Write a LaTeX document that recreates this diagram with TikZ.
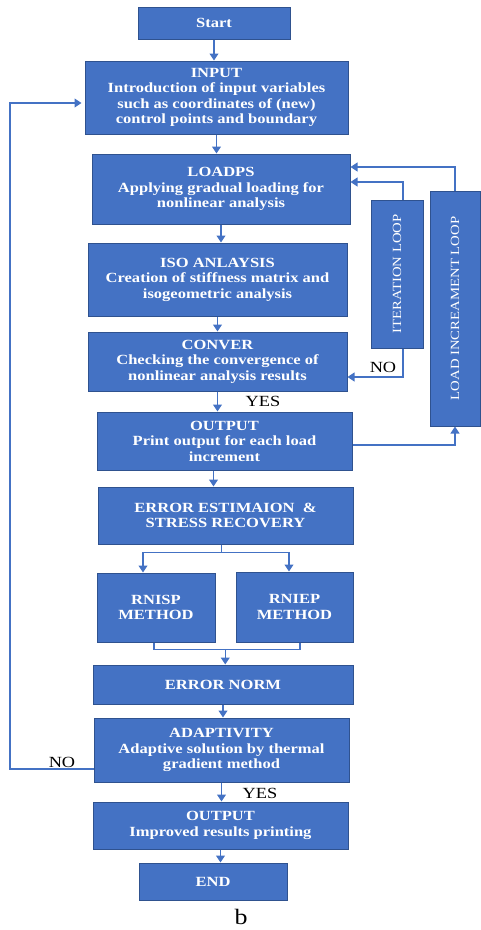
\documentclass[tikz,border=0pt]{standalone}
\usepackage{fontspec}
\setmainfont{Liberation Serif}[FakeStretch=1.18]
\usetikzlibrary{calc,arrows.meta}

\definecolor{boxblue}{RGB}{68,114,196}
\definecolor{boxedge}{RGB}{47,82,143}

\tikzset{
  procbox/.style={draw=boxedge, line width=1pt, fill=boxblue, text=white,
    font=\bfseries\fontsize{14}{15.5}\selectfont, align=center, inner sep=1pt},
  loopbox/.style={draw=boxedge, line width=1pt, fill=boxblue, text=white,
    font=\fontsize{12.5}{14}\selectfont, inner sep=1pt},
  flow/.style={draw=boxblue, line width=1.2pt},
  arr/.style={flow, -{Triangle[length=7pt,width=9pt]}},
  tag/.style={font=\fontsize{15.5}{17}\selectfont, text=black}
}

\begin{document}
\begin{tikzpicture}[x=1pt,y=-1pt]
            \useasboundingbox (0,0) rectangle (481,930);
            % main column
            \node[procbox, minimum width=152, minimum height=32] (start) at (214,23) {Start};
            \node[procbox, minimum width=263, minimum height=73] (input) at (216.5,97.5)
                {INPUT\\Introduction of input variables\\such as coordinates of (new)\\control points and boundary};
            \node[procbox, minimum width=258, minimum height=70] (loadps) at (221,189)
                {LOADPS\\Applying gradual loading for\\nonlinear analysis};
            \node[procbox, minimum width=259, minimum height=73] (iso) at (217.5,279.5)
                {ISO ANLAYSIS\\Creation of stiffness matrix and\\isogeometric analysis};
            \node[procbox, minimum width=259, minimum height=59] (conver) at (217.5,361.5)
                {CONVER\\Checking the convergence of\\nonlinear analysis results};
            \node[procbox, minimum width=255, minimum height=58] (outa) at (224.5,441)
                {OUTPUT\\Print output for each load\\increment};
            \node[procbox, minimum width=255, minimum height=57] (errest) at (225.5,515.5)
                {ERROR ESTIMAION \ \&\\STRESS RECOVERY};
            \node[procbox, minimum width=118, minimum height=69] (rnisp) at (156,607.5)
                {RNISP\\METHOD};
            \node[procbox, minimum width=117, minimum height=70] (rniep) at (294.5,607)
                {RNIEP\\METHOD};
            \node[procbox, minimum width=260, minimum height=39] (errnorm) at (223,684.5)
                {ERROR NORM};
            \node[procbox, minimum width=255, minimum height=64] (adapt) at (221.5,750)
                {ADAPTIVITY\\Adaptive solution by thermal\\gradient method};
            \node[procbox, minimum width=255, minimum height=47] (outb) at (220.5,825.5)
                {OUTPUT\\Improved results printing};
            \node[procbox, minimum width=148, minimum height=37] (finish) at (213,881.5) {END};
            % loop boxes
            \node[loopbox, minimum width=52, minimum height=148] (iterloop) at (397,274)
                {\rotatebox{90}{ITERATION LOOP}};
            \node[loopbox, minimum width=50, minimum height=235] (incloop) at (455,308.5)
                {\rotatebox{90}{LOAD INCREAMENT LOOP}};

            % straight arrows
            \draw[arr] (start.south) -- (start.south |- input.north);
            \draw[arr] (input.south) -- (input.south |- loadps.north);
            \draw[arr] (loadps.south) -- (loadps.south |- iso.north);
            \draw[arr] (iso.south) -- (iso.south |- conver.north);
            \draw[arr] (conver.south) -- (conver.south |- outa.north);
            \draw[arr] ([xshift=-11pt]outa.south) -- ([xshift=-11pt]outa.south |- errest.north);
            \draw[arr] (errnorm.south) -- (errnorm.south |- adapt.north);
            \draw[arr] (adapt.south) -- (adapt.south |- outb.north);
            \draw[arr] (outb.south) -- (outb.south |- finish.north);

            % split and merge
            \coordinate (split) at ($(errest.south)+(-4,8)$);
            \draw[flow] (split |- errest.south) -- (split);
            \draw[arr] (split) -| ([xshift=-13pt]rnisp.north);
            \draw[arr] (split) -| ([xshift=-5.5pt]rniep.north);
            \coordinate (merge) at ($(rnisp.south)!0.5!(rniep.south)+(0,7)$);
            \draw[flow] ([xshift=-2pt]rnisp.south) |- (merge) -| ([xshift=5.5pt]rniep.south);
            \draw[arr] (merge) -- (merge |- errnorm.north);

            % loops
            \draw[arr] ([xshift=6pt]iterloop.north) |- ([yshift=7pt]loadps.east);
            \draw[arr] (incloop.north) |- ([yshift=22pt]loadps.east);
            \draw[arr] ([xshift=6pt]iterloop.south) |- ([yshift=-15.5pt]conver.east);
            \draw[arr] ([yshift=-4pt]outa.east) -| (incloop.south);
            \coordinate (backx) at (10,103);
            \draw[arr] ([yshift=-19pt]adapt.west) -| (backx) -- ([yshift=-5.5pt,xshift=-3pt]input.west);

            % labels
            \node[tag] (noa) at (383,367) {NO};
            \node[tag] (yesa) at (263,401) {YES};
            \node[tag] (nob) at (62,762) {NO};
            \node[tag] (yesb) at (260,793) {YES};
            \node[tag, font=\fontsize{22}{24}\selectfont] (cap) at (241,917) {b};
        \end{tikzpicture}
\end{document}
